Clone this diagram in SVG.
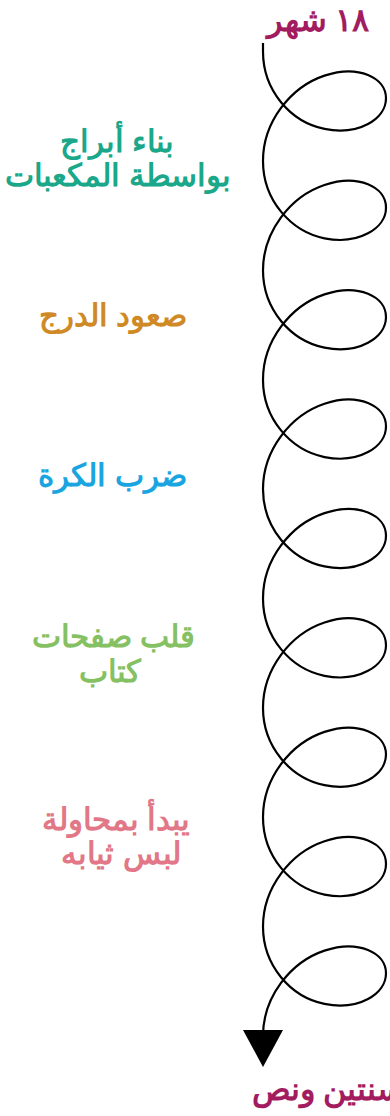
<svg xmlns="http://www.w3.org/2000/svg" width="390" height="1116" viewBox="0 0 390 1116">
  <style>
    .lbl { font-family: "Noto Sans", sans-serif; font-weight: bold; font-size: 31px; text-anchor: middle; }
    .end { font-family: "Noto Sans", sans-serif; font-weight: bold; font-size: 32px; fill: #A21C5F; }
    .spiral { fill: none; stroke: #000; stroke-width: 2.2; }
  </style>
  <defs>
    <marker id="arrow" markerUnits="userSpaceOnUse" markerWidth="40" markerHeight="42" refX="6" refY="0" orient="auto" viewBox="0 -21 40 42" overflow="visible">
      <path d="M0,-20 L37,0 L0,20 z" fill="#000"/>
    </marker>
  </defs>
  <g id="connectors">
    <path class="spiral" marker-end="url(#arrow)" d="M263,43 V51.6
      c0,38.938 27.534,70.438 61.5,77.343 c33.966,6.905 61.5,-9.947 61.5,-30.657 c0,-20.71 -27.534,-33.98 -61.5,-22.657 c-33.966,11.323 -61.5,46.405 -61.5,85.343
      c0,38.938 27.534,70.438 61.5,77.343 c33.966,6.905 61.5,-9.947 61.5,-30.657 c0,-20.71 -27.534,-33.98 -61.5,-22.657 c-33.966,11.323 -61.5,46.405 -61.5,85.343
      c0,38.938 27.534,70.438 61.5,77.343 c33.966,6.905 61.5,-9.947 61.5,-30.657 c0,-20.71 -27.534,-33.98 -61.5,-22.657 c-33.966,11.323 -61.5,46.405 -61.5,85.343
      c0,38.938 27.534,70.438 61.5,77.343 c33.966,6.905 61.5,-9.947 61.5,-30.657 c0,-20.71 -27.534,-33.98 -61.5,-22.657 c-33.966,11.323 -61.5,46.405 -61.5,85.343
      c0,38.938 27.534,70.438 61.5,77.343 c33.966,6.905 61.5,-9.947 61.5,-30.657 c0,-20.71 -27.534,-33.98 -61.5,-22.657 c-33.966,11.323 -61.5,46.405 -61.5,85.343
      c0,38.938 27.534,70.438 61.5,77.343 c33.966,6.905 61.5,-9.947 61.5,-30.657 c0,-20.71 -27.534,-33.98 -61.5,-22.657 c-33.966,11.323 -61.5,46.405 -61.5,85.343
      c0,38.938 27.534,70.438 61.5,77.343 c33.966,6.905 61.5,-9.947 61.5,-30.657 c0,-20.71 -27.534,-33.98 -61.5,-22.657 c-33.966,11.323 -61.5,46.405 -61.5,85.343
      c0,38.938 27.534,70.438 61.5,77.343 c33.966,6.905 61.5,-9.947 61.5,-30.657 c0,-20.71 -27.534,-33.98 -61.5,-22.657 c-33.966,11.323 -61.5,46.405 -61.5,85.343
      c0,38.938 27.534,70.438 61.5,77.343 c33.966,6.905 61.5,-9.947 61.5,-30.657 c0,-20.71 -27.534,-33.98 -61.5,-22.657 c-33.966,11.323 -61.5,46.405 -61.5,85.343"/>
  </g>
  <g id="start">
    <text class="end" x="318" y="31" text-anchor="middle">١٨ شهر</text>
  </g>
  <g id="blocks">
    <text class="lbl" x="117" y="152" fill="#1BA88A">بناء أبراج</text>
    <text class="lbl" x="118" y="186" fill="#1BA88A">بواسطة المكعبات</text>
  </g>
  <g id="stairs">
    <text class="lbl" x="113" y="326" fill="#CF8A26">صعود الدرج</text>
  </g>
  <g id="ball">
    <text class="lbl" x="112.5" y="486" fill="#1BA5E0">ضرب الكرة</text>
  </g>
  <g id="pages">
    <text class="lbl" x="113.5" y="647" fill="#85C163">قلب صفحات</text>
    <text class="lbl" x="110" y="682" fill="#85C163">كتاب</text>
  </g>
  <g id="dressing">
    <text class="lbl" x="116" y="830" fill="#E27787">يبدأ بمحاولة</text>
    <text class="lbl" x="121" y="864" fill="#E27787">لبس ثيابه</text>
  </g>
  <g id="finish">
    <text class="end" x="252" y="1100" text-anchor="start">سنتين ونص</text>
  </g>
</svg>
